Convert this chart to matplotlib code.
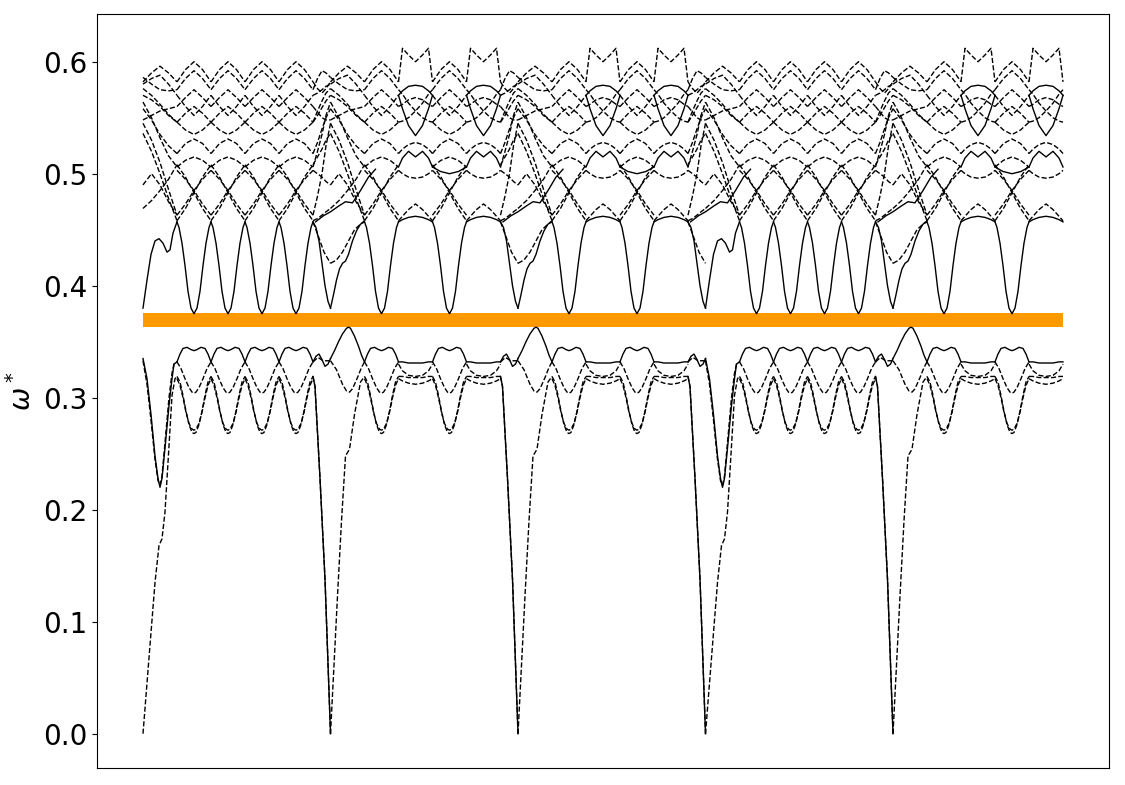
import matplotlib
matplotlib.use("Agg")
import matplotlib.pyplot as plt

# k-path: five legs, each one starts at a zero-frequency point
LEG_START = [0, 187.5, 375, 562.5, 750]
LEG_KIND = ["A", "B", "B", "A", "B"]
LEG_LEN = 187.5
K_END = 920

# complete band gap (orange bar)
GAP_LO, GAP_HI = 0.3634, 0.3759

# narrow dips / wide flat humps inside a leg (offsets from leg start)
A_DIPS = [51, 85, 119, 153]
B_DIPS = [51, 119]
B_HUMPS = [68, 136]

# ---- band just above the gap (solid) ----
DIP_DX = [-17, -15, -12, -9, -6, -3, 0, 3, 6, 9, 12, 15, 17]
DIP_MAIN = [0.457, 0.452, 0.438, 0.418, 0.395, 0.380, 0.375, 0.380, 0.395, 0.418, 0.438, 0.452, 0.457]
A_MAIN_IN_X = [0, 4, 8, 12, 16, 20, 24, 27, 30, 34]
A_MAIN_IN_Y = [0.380, 0.405, 0.428, 0.440, 0.442, 0.438, 0.430, 0.432, 0.447, 0.457]
B_MAIN_IN_X = [0, 3, 6, 9, 12, 15, 18, 22, 26, 30, 34]
B_MAIN_IN_Y = [0.380, 0.392, 0.405, 0.415, 0.420, 0.422, 0.428, 0.440, 0.449, 0.455, 0.457]
MAIN_OUT_X = [170, 173, 176, 179, 182, 185, 187.5]
MAIN_OUT_Y = [0.457, 0.452, 0.440, 0.420, 0.400, 0.386, 0.380]
# dashed partners near the leg ends
MAIN_DASH_OUT_X = [170, 175, 181, 187.5]
MAIN_DASH_OUT_Y = [0.457, 0.445, 0.430, 0.420]
MAIN_DASH_IN_X = [0, 6, 12, 18, 24, 30, 34]
MAIN_DASH_IN_Y = [0.420, 0.423, 0.430, 0.440, 0.450, 0.455, 0.458]

# ---- bands just below the gap ----
M_DX = [-17, -14, -11, -7, -3, 0, 3, 7, 11, 14, 17]
M_LOW = [0.332, 0.339, 0.344, 0.345, 0.343, 0.342, 0.343, 0.345, 0.344, 0.339, 0.332]
A_LOW_IN_X = [0, 4, 8, 12, 15, 17, 19, 22, 26, 29, 31, 34]
A_LOW_IN_Y = [0.335, 0.317, 0.285, 0.248, 0.228, 0.220, 0.228, 0.255, 0.293, 0.317, 0.330, 0.332]
B_LOW_IN_X = [0, 4, 8, 12, 16, 18, 20, 24, 28, 31, 34]
B_LOW_IN_Y = [0.335, 0.342, 0.350, 0.357, 0.362, 0.363, 0.362, 0.355, 0.346, 0.338, 0.332]
LOW_OUT_X = [170, 173, 176, 179, 182, 185, 187.5]
LOW_OUT_Y = [0.332, 0.337, 0.339, 0.334, 0.328, 0.330, 0.335]

V_DX = [-17, -13, -9, -5, -2, 0, 2, 5, 9, 13, 17]
V_MID = [0.332, 0.326, 0.317, 0.309, 0.305, 0.304, 0.305, 0.309, 0.317, 0.326, 0.332]
A_V_IN_X = [0, 4, 8, 12, 15, 17, 19, 22, 26, 29, 31, 34]
A_V_IN_Y = [0.333, 0.312, 0.280, 0.245, 0.226, 0.222, 0.230, 0.260, 0.300, 0.322, 0.330, 0.332]
B_V_IN_X = [0, 6, 12, 16, 19, 22, 27, 31, 34]
B_V_IN_Y = [0.333, 0.325, 0.312, 0.306, 0.305, 0.308, 0.318, 0.327, 0.332]
V_OUT_X = [170, 175, 180, 187.5]
V_OUT_Y = [0.332, 0.336, 0.333, 0.333]

W_DX = [-17, -14, -11, -8, -5, -2, 0, 2, 5, 8, 11, 14, 17]
W1 = [0.319, 0.314, 0.302, 0.288, 0.276, 0.269, 0.268, 0.269, 0.276, 0.288, 0.302, 0.314, 0.319]
W2 = [0.317, 0.311, 0.300, 0.287, 0.277, 0.272, 0.271, 0.272, 0.277, 0.287, 0.300, 0.311, 0.317]

# acoustic branches to zero frequency
A_AC_X = [0, 7, 12, 16, 19, 22, 26, 29, 32, 34]
A_AC_Y = [0.0, 0.079, 0.135, 0.168, 0.174, 0.198, 0.257, 0.302, 0.317, 0.319]
B_AC_X = [0, 4, 7, 11, 15, 19, 24, 30, 34]
B_AC_Y = [0.0, 0.070, 0.123, 0.190, 0.248, 0.254, 0.285, 0.314, 0.319]
AC_OUT_X = [170, 172, 177, 182, 187.5]
AC_OUT_Y = [0.319, 0.310, 0.228, 0.138, 0.0]

# ---- upper bands: crossing lines around every dip ----
UP_DX = [-17, -8.5, 0, 8.5, 17]
UPPER_LINES = [
    [0.508, 0.497, 0.483, 0.469, 0.458],
    [0.458, 0.469, 0.483, 0.497, 0.508],
    [0.503, 0.495, 0.485, 0.473, 0.463],
    [0.463, 0.473, 0.485, 0.495, 0.503],
    [0.518, 0.527, 0.531, 0.527, 0.518],
    [0.506, 0.512, 0.515, 0.512, 0.506],
    [0.546, 0.554, 0.560, 0.554, 0.546],
    [0.546, 0.539, 0.535, 0.539, 0.546],
    [0.582, 0.593, 0.600, 0.593, 0.582],
    [0.575, 0.585, 0.592, 0.585, 0.575],
    [0.570, 0.560, 0.552, 0.560, 0.570],
    [0.560, 0.568, 0.575, 0.568, 0.560],
]
EDGE_IN_X = [0, 8.5, 17, 25.5, 34]
EDGE_IN = [
    [0.469, 0.476, 0.485, 0.495, 0.508],
    [0.536, 0.520, 0.500, 0.478, 0.458],
    [0.545, 0.530, 0.510, 0.486, 0.463],
    [0.490, 0.500, 0.490, 0.475, 0.463],
    [0.558, 0.548, 0.535, 0.525, 0.518],
    [0.564, 0.550, 0.532, 0.516, 0.506],
    [0.570, 0.566, 0.560, 0.552, 0.546],
    [0.576, 0.570, 0.562, 0.553, 0.546],
    [0.582, 0.590, 0.596, 0.590, 0.582],
    [0.586, 0.580, 0.575, 0.574, 0.575],
    [0.580, 0.585, 0.588, 0.580, 0.570],
    [0.548, 0.552, 0.556, 0.558, 0.560],
]
EDGE_OUT_X = [170, 174.5, 179, 183, 187.5]
EDGE_OUT = [
    [0.458, 0.460, 0.463, 0.466, 0.469],
    [0.508, 0.515, 0.522, 0.530, 0.536],
    [0.463, 0.480, 0.500, 0.525, 0.545],
    [0.503, 0.500, 0.497, 0.493, 0.490],
    [0.518, 0.528, 0.540, 0.550, 0.558],
    [0.506, 0.520, 0.535, 0.552, 0.564],
    [0.546, 0.552, 0.559, 0.565, 0.570],
    [0.546, 0.556, 0.565, 0.572, 0.576],
    [0.582, 0.576, 0.572, 0.576, 0.582],
    [0.575, 0.585, 0.592, 0.590, 0.586],
    [0.570, 0.572, 0.575, 0.578, 0.580],
    [0.560, 0.555, 0.550, 0.548, 0.548],
]

# ---- wide humps of the B legs ----
HUMP_DX = [0, 4, 10, 17, 24, 30, 34]
HUMP_MAIN = [0.457, 0.459, 0.461, 0.462, 0.461, 0.459, 0.457]
HUMP_PEAK = [0.458, 0.462, 0.468, 0.473, 0.468, 0.462, 0.458]
HUMP_SOLID_M = [0.506, 0.514, 0.520, 0.515, 0.520, 0.514, 0.506]
HUMP_BELOW = [0.503, 0.500, 0.497, 0.496, 0.497, 0.500, 0.503]
HUMP_ARC = [0.518, 0.522, 0.526, 0.528, 0.526, 0.522, 0.518]
HUMP_LENS_TOP = [0.570, 0.574, 0.578, 0.579, 0.578, 0.574, 0.570]
HUMP_LENS_BOT = [0.570, 0.558, 0.543, 0.534, 0.543, 0.558, 0.570]
HUMP_X1 = [0.575, 0.571, 0.563, 0.556, 0.550, 0.547, 0.546]
HUMP_X2 = [0.546, 0.547, 0.550, 0.556, 0.563, 0.571, 0.575]
HUMP_TOP = [0.582, 0.612, 0.606, 0.600, 0.606, 0.612, 0.582]
HUMP_INNER = [0.560, 0.562, 0.566, 0.568, 0.566, 0.562, 0.560]
HUMP_LOW = [0.332, 0.332, 0.331, 0.331, 0.331, 0.332, 0.332]
HUMP_V = [0.330, 0.324, 0.320, 0.319, 0.320, 0.324, 0.330]
HUMP_W1 = [0.319, 0.319, 0.318, 0.318, 0.318, 0.319, 0.319]
HUMP_W2 = [0.317, 0.315, 0.313, 0.312, 0.313, 0.315, 0.317]
# solid band bridging the dip between the two humps
B_BRIDGE_X = [102, 110, 119, 128, 136]
B_BRIDGE_Y = [0.506, 0.502, 0.500, 0.502, 0.506]

# solid band leaving each interior zero point upwards
BSOL_DX = [-15, -7, 0, 8, 15, 22, 30, 38, 45]
BSOL_Y = [0.457, 0.4625, 0.466, 0.471, 0.475, 0.474, 0.485, 0.497, 0.504]

GAP_COLOR = "#ff9900"


def put(ax, x0, xs, ys, ls="-", lw=1.0):
    """draw one piece of a band, shifted to x0 and cut at the path end"""
    px, py = [], []
    for x, y in zip(xs, ys):
        if x0 + x <= K_END + 1e-6:
            px.append(x0 + x)
            py.append(y)
    if len(px) > 1:
        ax.plot(px, py, ls, color="k", lw=lw)


def around(c, dxs):
    return [c + d for d in dxs]


fig = plt.figure(figsize=(11.25, 7.85), dpi=100)
ax = fig.add_axes([97 / 1125, 17 / 785, 1012 / 1125, 754 / 785])

for x0, kind in zip(LEG_START, LEG_KIND):
    dips = A_DIPS if kind == "A" else B_DIPS

    if kind == "A":
        put(ax, x0, A_MAIN_IN_X, A_MAIN_IN_Y)
        put(ax, x0, A_LOW_IN_X, A_LOW_IN_Y)
        put(ax, x0, A_V_IN_X, A_V_IN_Y, "--")
        put(ax, x0, A_AC_X, A_AC_Y, "--")
    else:
        put(ax, x0, B_MAIN_IN_X, B_MAIN_IN_Y)
        put(ax, x0, B_LOW_IN_X, B_LOW_IN_Y)
        put(ax, x0, B_V_IN_X, B_V_IN_Y, "--")
        put(ax, x0, B_AC_X, B_AC_Y, "--")
        put(ax, x0, MAIN_DASH_IN_X, MAIN_DASH_IN_Y, "--")

    for c in dips:
        put(ax, x0, around(c, DIP_DX), DIP_MAIN)
        put(ax, x0, around(c, M_DX), M_LOW)
        put(ax, x0, around(c, V_DX), V_MID, "--")
        put(ax, x0, around(c, W_DX), W1, "--")
        put(ax, x0, around(c, W_DX), W2, "--")
        for ys in UPPER_LINES:
            put(ax, x0, around(c, UP_DX), ys, "--")

    if kind == "B":
        for h in B_HUMPS:
            hx = around(h, HUMP_DX)
            put(ax, x0, hx, HUMP_MAIN)
            put(ax, x0, hx, HUMP_LOW)
            put(ax, x0, hx, HUMP_SOLID_M)
            put(ax, x0, hx, HUMP_LENS_TOP)
            put(ax, x0, hx, HUMP_LENS_BOT)
            for ys in (HUMP_PEAK, HUMP_BELOW, HUMP_ARC, HUMP_X1, HUMP_X2,
                       HUMP_TOP, HUMP_INNER, HUMP_V, HUMP_W1, HUMP_W2):
                put(ax, x0, hx, ys, "--")
        put(ax, x0, B_BRIDGE_X, B_BRIDGE_Y)

    for ys in EDGE_IN:
        put(ax, x0, EDGE_IN_X, ys, "--")

    # leaving the leg towards the next zero point
    put(ax, x0, MAIN_OUT_X, MAIN_OUT_Y)
    put(ax, x0, MAIN_DASH_OUT_X, MAIN_DASH_OUT_Y, "--")
    put(ax, x0, LOW_OUT_X, LOW_OUT_Y)
    put(ax, x0, V_OUT_X, V_OUT_Y, "--")
    put(ax, x0, AC_OUT_X, AC_OUT_Y)
    put(ax, x0, AC_OUT_X, AC_OUT_Y, "--")
    for ys in EDGE_OUT:
        put(ax, x0, EDGE_OUT_X, ys, "--")
    if x0 + LEG_LEN < K_END:
        put(ax, x0 + LEG_LEN, BSOL_DX, BSOL_Y)

ax.fill_between([0, K_END], GAP_LO, GAP_HI, color=GAP_COLOR, lw=0)

ax.set_xticks([])
ax.tick_params(axis="y", labelsize=20)
ax.set_ylabel(r"$\omega^*$", fontsize=20)

fig.savefig("out.png", dpi=100)
